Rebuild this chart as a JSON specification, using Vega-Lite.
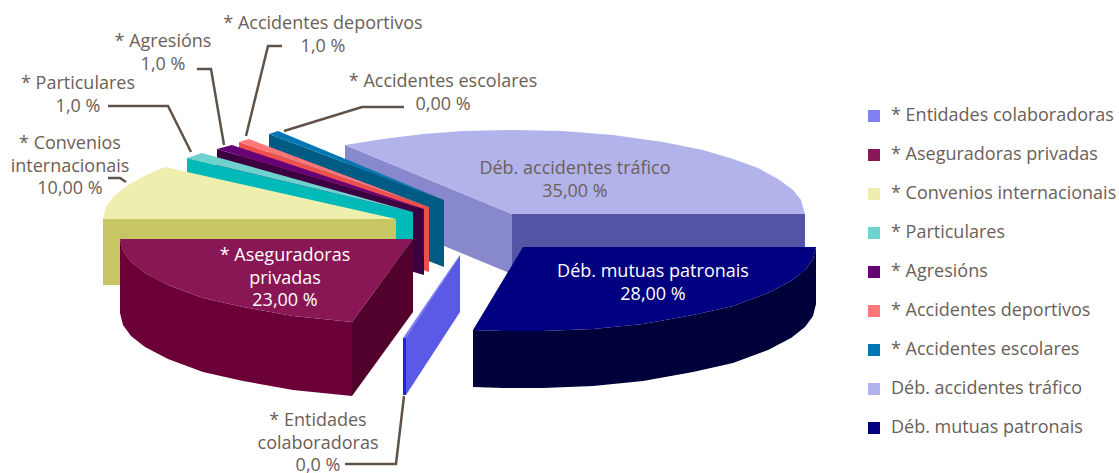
{"$schema":"https://vega.github.io/schema/vega-lite/v6.json","width":1119,"height":473,"padding":0,"autosize":{"type":"none"},"background":"white","config":{"view":{"stroke":null},"font":"Open Sans"},
"datasets":{
"faces":[
{"face":"tráfico lado A","x":512,"y":214},{"face":"tráfico lado A","x":805,"y":214},{"face":"tráfico lado A","x":805,"y":274},{"face":"tráfico lado A","x":512,"y":274},
{"face":"tráfico lado B","x":345,"y":145},{"face":"tráfico lado B","x":512,"y":214},{"face":"tráfico lado B","x":512,"y":274},{"face":"tráfico lado B","x":345,"y":205},
{"face":"Déb. accidentes tráfico","x":512,"y":214},{"face":"Déb. accidentes tráfico","x":345,"y":145},{"face":"Déb. accidentes tráfico","x":383,"y":139},{"face":"Déb. accidentes tráfico","x":423,"y":134},{"face":"Déb. accidentes tráfico","x":463,"y":131},{"face":"Déb. accidentes tráfico","x":513,"y":130},{"face":"Déb. accidentes tráfico","x":563,"y":131},{"face":"Déb. accidentes tráfico","x":613,"y":135},{"face":"Déb. accidentes tráfico","x":663,"y":142},{"face":"Déb. accidentes tráfico","x":703,"y":150},{"face":"Déb. accidentes tráfico","x":733,"y":159},{"face":"Déb. accidentes tráfico","x":758,"y":168},{"face":"Déb. accidentes tráfico","x":778,"y":179},{"face":"Déb. accidentes tráfico","x":793,"y":190},{"face":"Déb. accidentes tráfico","x":801,"y":200},{"face":"Déb. accidentes tráfico","x":805,"y":214},
{"face":"escolares lado","x":269,"y":134},{"face":"escolares lado","x":444,"y":200},{"face":"escolares lado","x":444,"y":267},{"face":"escolares lado","x":269,"y":200},
{"face":"* Accidentes escolares","x":269,"y":134},{"face":"* Accidentes escolares","x":278,"y":131},{"face":"* Accidentes escolares","x":444,"y":200},
{"face":"deportivos lado","x":239,"y":142},{"face":"deportivos lado","x":429,"y":207},{"face":"deportivos lado","x":429,"y":272},{"face":"deportivos lado","x":239,"y":207},
{"face":"* Accidentes deportivos","x":239,"y":142},{"face":"* Accidentes deportivos","x":249,"y":139},{"face":"* Accidentes deportivos","x":429,"y":207},
{"face":"agresións lado","x":217,"y":149},{"face":"agresións lado","x":424,"y":209},{"face":"agresións lado","x":424,"y":275},{"face":"agresións lado","x":217,"y":215},
{"face":"* Agresións","x":217,"y":149},{"face":"* Agresións","x":232,"y":145},{"face":"* Agresións","x":424,"y":209},
{"face":"particulares lado","x":187,"y":158},{"face":"particulares lado","x":413,"y":212},{"face":"particulares lado","x":413,"y":278},{"face":"particulares lado","x":187,"y":224},
{"face":"* Particulares","x":187,"y":158},{"face":"* Particulares","x":202,"y":153},{"face":"* Particulares","x":413,"y":212},
{"face":"convenios lado","x":103,"y":219},{"face":"convenios lado","x":396,"y":219},{"face":"convenios lado","x":396,"y":285},{"face":"convenios lado","x":103,"y":285},
{"face":"* Convenios internacionais","x":396,"y":219},{"face":"* Convenios internacionais","x":103,"y":219},{"face":"* Convenios internacionais","x":106,"y":207},{"face":"* Convenios internacionais","x":114,"y":196},{"face":"* Convenios internacionais","x":128,"y":185},{"face":"* Convenios internacionais","x":146,"y":175},{"face":"* Convenios internacionais","x":165,"y":167},
{"face":"aseguradoras frente","x":120,"y":239},{"face":"aseguradoras frente","x":123,"y":251},{"face":"aseguradoras frente","x":131,"y":262},{"face":"aseguradoras frente","x":145,"y":273},{"face":"aseguradoras frente","x":168,"y":285},{"face":"aseguradoras frente","x":203,"y":298},{"face":"aseguradoras frente","x":243,"y":307},{"face":"aseguradoras frente","x":293,"y":316},{"face":"aseguradoras frente","x":352,"y":322},{"face":"aseguradoras frente","x":352,"y":396},{"face":"aseguradoras frente","x":293,"y":390},{"face":"aseguradoras frente","x":243,"y":381},{"face":"aseguradoras frente","x":203,"y":372},{"face":"aseguradoras frente","x":168,"y":359},{"face":"aseguradoras frente","x":145,"y":347},{"face":"aseguradoras frente","x":131,"y":336},{"face":"aseguradoras frente","x":123,"y":325},{"face":"aseguradoras frente","x":120,"y":313},
{"face":"aseguradoras lado","x":352,"y":322},{"face":"aseguradoras lado","x":413,"y":239},{"face":"aseguradoras lado","x":413,"y":312},{"face":"aseguradoras lado","x":352,"y":396},
{"face":"* Aseguradoras privadas","x":413,"y":239},{"face":"* Aseguradoras privadas","x":120,"y":239},{"face":"* Aseguradoras privadas","x":123,"y":251},{"face":"* Aseguradoras privadas","x":131,"y":262},{"face":"* Aseguradoras privadas","x":145,"y":273},{"face":"* Aseguradoras privadas","x":168,"y":285},{"face":"* Aseguradoras privadas","x":203,"y":298},{"face":"* Aseguradoras privadas","x":243,"y":307},{"face":"* Aseguradoras privadas","x":293,"y":316},{"face":"* Aseguradoras privadas","x":352,"y":322},
{"face":"entidades lado","x":406,"y":337},{"face":"entidades lado","x":460,"y":255},{"face":"entidades lado","x":460,"y":312},{"face":"entidades lado","x":406,"y":395},
{"face":"entidades frente","x":403,"y":338},{"face":"entidades frente","x":406,"y":338},{"face":"entidades frente","x":406,"y":395},{"face":"entidades frente","x":403,"y":395},
{"face":"* Entidades colaboradoras","x":403,"y":338},{"face":"* Entidades colaboradoras","x":460,"y":254},{"face":"* Entidades colaboradoras","x":406,"y":338},
{"face":"mutuas lado","x":816,"y":247},{"face":"mutuas lado","x":813,"y":259},{"face":"mutuas lado","x":805,"y":270},{"face":"mutuas lado","x":791,"y":281},{"face":"mutuas lado","x":768,"y":293},{"face":"mutuas lado","x":733,"y":306},{"face":"mutuas lado","x":693,"y":315},{"face":"mutuas lado","x":643,"y":324},{"face":"mutuas lado","x":593,"y":329},{"face":"mutuas lado","x":543,"y":331},{"face":"mutuas lado","x":503,"y":331},{"face":"mutuas lado","x":473,"y":330},{"face":"mutuas lado","x":473,"y":387},{"face":"mutuas lado","x":503,"y":388},{"face":"mutuas lado","x":543,"y":388},{"face":"mutuas lado","x":593,"y":386},{"face":"mutuas lado","x":643,"y":381},{"face":"mutuas lado","x":693,"y":372},{"face":"mutuas lado","x":733,"y":363},{"face":"mutuas lado","x":768,"y":350},{"face":"mutuas lado","x":791,"y":338},{"face":"mutuas lado","x":805,"y":327},{"face":"mutuas lado","x":813,"y":316},{"face":"mutuas lado","x":816,"y":304},
{"face":"Déb. mutuas patronais","x":523,"y":247},{"face":"Déb. mutuas patronais","x":816,"y":247},{"face":"Déb. mutuas patronais","x":813,"y":259},{"face":"Déb. mutuas patronais","x":805,"y":270},{"face":"Déb. mutuas patronais","x":791,"y":281},{"face":"Déb. mutuas patronais","x":768,"y":293},{"face":"Déb. mutuas patronais","x":733,"y":306},{"face":"Déb. mutuas patronais","x":693,"y":315},{"face":"Déb. mutuas patronais","x":643,"y":324},{"face":"Déb. mutuas patronais","x":593,"y":329},{"face":"Déb. mutuas patronais","x":543,"y":331},{"face":"Déb. mutuas patronais","x":503,"y":331},{"face":"Déb. mutuas patronais","x":473,"y":330}
],
"leaders":[
{"slice":"escolares","x":404,"y":107},{"slice":"escolares","x":362,"y":107},{"slice":"escolares","x":284,"y":131},
{"slice":"deportivos","x":282,"y":46},{"slice":"deportivos","x":268,"y":46},{"slice":"deportivos","x":246,"y":136},
{"slice":"agresions","x":197,"y":69},{"slice":"agresions","x":211,"y":69},{"slice":"agresions","x":224,"y":145},
{"slice":"particulares","x":108,"y":106},{"slice":"particulares","x":168,"y":106},{"slice":"particulares","x":191,"y":152},
{"slice":"convenios","x":108,"y":178},{"slice":"convenios","x":120,"y":178},{"slice":"convenios","x":126,"y":182},
{"slice":"entidades","x":345,"y":464},{"slice":"entidades","x":396,"y":464},{"slice":"entidades","x":404,"y":396}
],
"labels":[
{"label":"* Accidentes deportivos\n1,0 %","share":1,"x":323,"y":24,"inside":false},
{"label":"* Agresións\n1,0 %","share":1,"x":163,"y":42,"inside":false},
{"label":"* Particulares\n1,0 %","share":1,"x":78,"y":84,"inside":false},
{"label":"* Accidentes escolares\n0,00 %","share":0,"x":443,"y":82,"inside":false},
{"label":"* Convenios\ninternacionais\n10,00 %","share":10,"x":70,"y":144,"inside":false},
{"label":"Déb. accidentes tráfico\n35,00 %","share":35,"x":575,"y":169,"inside":false},
{"label":"Déb. mutuas patronais\n28,00 %","share":28,"x":653,"y":272,"inside":true},
{"label":"* Aseguradoras\nprivadas\n23,00 %","share":23,"x":285,"y":256,"inside":true},
{"label":"* Entidades\ncolaboradoras\n0,0 %","share":0,"x":318,"y":421,"inside":false}
]},
"layer":[
{"data":{"name":"faces"},"mark":{"type":"line","filled":true,"strokeWidth":0},"encoding":{
"x":{"field":"x","type":"quantitative","scale":{"domain":[0,1119],"nice":false,"zero":false},"axis":null},
"y":{"field":"y","type":"quantitative","scale":{"domain":[473,0],"nice":false,"zero":false},"axis":null},
"order":{"value":null},
"color":{"field":"face","type":"nominal","scale":{
"domain":["* Entidades colaboradoras","* Aseguradoras privadas","* Convenios internacionais","* Particulares","* Agresións","* Accidentes deportivos","* Accidentes escolares","Déb. accidentes tráfico","Déb. mutuas patronais","tráfico lado A","tráfico lado B","escolares lado","deportivos lado","agresións lado","particulares lado","convenios lado","aseguradoras frente","aseguradoras lado","entidades lado","entidades frente","mutuas lado"],
"range":["#7f7ff0","#8a1755","#eeeeae","#70d2ce","#660077","#ff7777","#0077b3","#b3b3ec","#000080","#5555a5","#8888cc","#005b84","#f04d4d","#3c0040","#00baba","#c6c662","#6b0039","#52002c","#5a5ae6","#2222e0","#00003a"]},
"legend":{"title":null,"orient":"none","legendX":865,"legendY":107,"values":["* Entidades colaboradoras","* Aseguradoras privadas","* Convenios internacionais","* Particulares","* Agresións","* Accidentes deportivos","* Accidentes escolares","Déb. accidentes tráfico","Déb. mutuas patronais"],"symbolType":"square","symbolSize":144,"symbolStrokeWidth":0,"labelFontSize":18,"labelColor":"#6b6058","labelLimit":300,"labelOffset":8,"rowPadding":21,"padding":0}}}},
{"data":{"name":"leaders"},"mark":{"type":"line","color":"#5f5349","strokeWidth":2.5},"encoding":{
"x":{"field":"x","type":"quantitative"},"y":{"field":"y","type":"quantitative"},"detail":{"field":"slice"},"order":{"value":null}}},
{"data":{"name":"labels"},"mark":{"type":"text","fontSize":18,"lineBreak":"\n","lineHeight":22.5,"align":"center","baseline":"middle"},"encoding":{
"x":{"field":"x","type":"quantitative"},"y":{"field":"y","type":"quantitative"},"text":{"field":"label"},
"color":{"condition":{"test":"datum.inside","value":"#ffffff"},"value":"#6b6058"}}}
]}
